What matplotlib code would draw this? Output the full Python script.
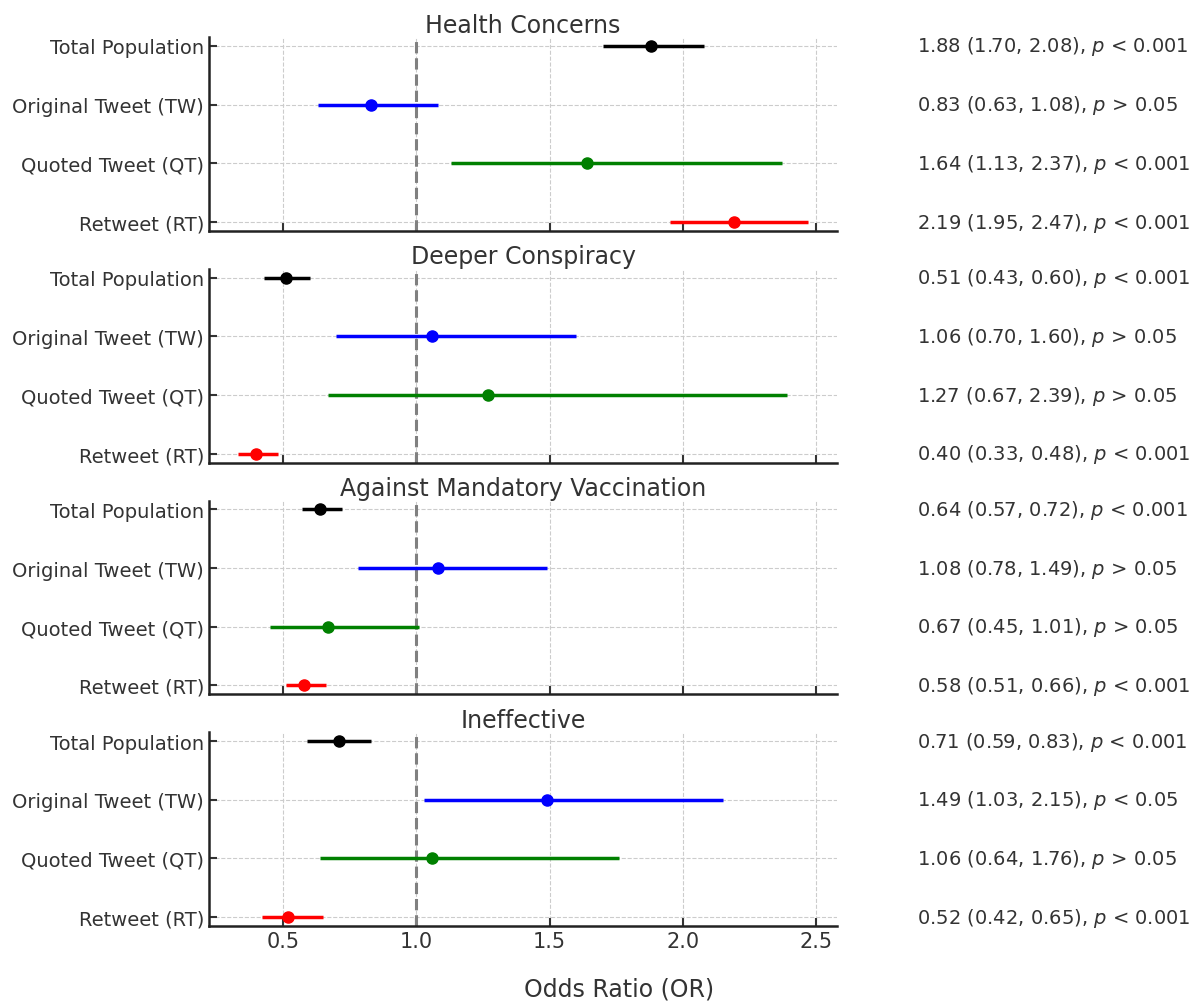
import matplotlib
matplotlib.use("Agg")
import matplotlib.pyplot as plt
import matplotlib.transforms as mtransforms

# 数据
panels = ["Health Concerns", "Deeper Conspiracy", "Against Mandatory Vaccination", "Ineffective"]
groups = ["Total Population", "Original Tweet (TW)", "Quoted Tweet (QT)", "Retweet (RT)"]
colors = ["black", "blue", "green", "red"]

or_health = [1.88, 0.83, 1.64, 2.19]
lo_health = [1.70, 0.63, 1.13, 1.95]
hi_health = [2.08, 1.08, 2.37, 2.47]
p_health = ["< 0.001", "> 0.05", "< 0.001", "< 0.001"]

or_deeper = [0.51, 1.06, 1.27, 0.40]
lo_deeper = [0.43, 0.70, 0.67, 0.33]
hi_deeper = [0.60, 1.60, 2.39, 0.48]
p_deeper = ["< 0.001", "> 0.05", "> 0.05", "< 0.001"]

or_against = [0.64, 1.08, 0.67, 0.58]
lo_against = [0.57, 0.78, 0.45, 0.51]
hi_against = [0.72, 1.49, 1.01, 0.66]
p_against = ["< 0.001", "> 0.05", "> 0.05", "< 0.001"]

or_ineff = [0.71, 1.49, 1.06, 0.52]
lo_ineff = [0.59, 1.03, 0.64, 0.42]
hi_ineff = [0.83, 2.15, 1.76, 0.65]
p_ineff = ["< 0.001", "< 0.05", "> 0.05", "< 0.001"]

all_or = [or_health, or_deeper, or_against, or_ineff]
all_lo = [lo_health, lo_deeper, lo_against, lo_ineff]
all_hi = [hi_health, hi_deeper, hi_against, hi_ineff]
all_p = [p_health, p_deeper, p_against, p_ineff]

text_color = "#333333"
plt.rcParams["font.family"] = "DejaVu Sans"
plt.rcParams["text.color"] = text_color
plt.rcParams["xtick.color"] = text_color
plt.rcParams["ytick.color"] = text_color
plt.rcParams["xtick.labelcolor"] = text_color
plt.rcParams["ytick.labelcolor"] = text_color


def run():
    fig, axes = plt.subplots(4, 1, figsize=(11.91, 10.04), dpi=100, sharex=True)
    fig.subplots_adjust(left=0.1755, right=0.7028, top=0.962, bottom=0.0767, hspace=0.196)

    for k, ax in enumerate(axes):
        ors, los, his, ps = all_or[k], all_lo[k], all_hi[k], all_p[k]
        for i in range(len(groups)):
            ax.errorbar(ors[i], i, xerr=[[ors[i] - los[i]], [his[i] - ors[i]]],
                        fmt="o", color=colors[i], ecolor=colors[i],
                        elinewidth=2.5, markersize=8, capsize=0, zorder=3)
        ax.axvline(1.0, color="gray", linestyle="--", linewidth=2.2, zorder=2)
        ax.set_yticks(range(len(groups)))
        ax.set_yticklabels(groups, fontsize=14)
        ax.invert_yaxis()
        ax.set_title(panels[k], fontsize=17, color=text_color, pad=4)
        ax.grid(True, linestyle="--", color="#cccccc", linewidth=0.8)
        ax.set_axisbelow(True)
        for s in ["top", "right"]:
            ax.spines[s].set_visible(False)
        for s in ["left", "bottom"]:
            ax.spines[s].set_linewidth(1.8)
            ax.spines[s].set_color("#222222")
        ax.tick_params(direction="in", length=6, width=1.5, labelsize=14)

        trans = mtransforms.blended_transform_factory(fig.transFigure, ax.transData)
        for i in range(len(groups)):
            label = f"{ors[i]:.2f} ({los[i]:.2f}, {his[i]:.2f}), $p$ {ps[i]}"
            ax.text(0.77, i, label, transform=trans, fontsize=14,
                    va="center", ha="left", color=text_color)

    axes[-1].set_xticks([0.5, 1.0, 1.5, 2.0, 2.5])
    axes[-1].tick_params(axis="x", labelsize=15)
    fig.text(0.52, 0.002, "Odds Ratio (OR)", fontsize=17, ha="center", va="bottom",
             color=text_color)

    plt.savefig("out.png", dpi=100)


if __name__ == '__main__':
    run()
